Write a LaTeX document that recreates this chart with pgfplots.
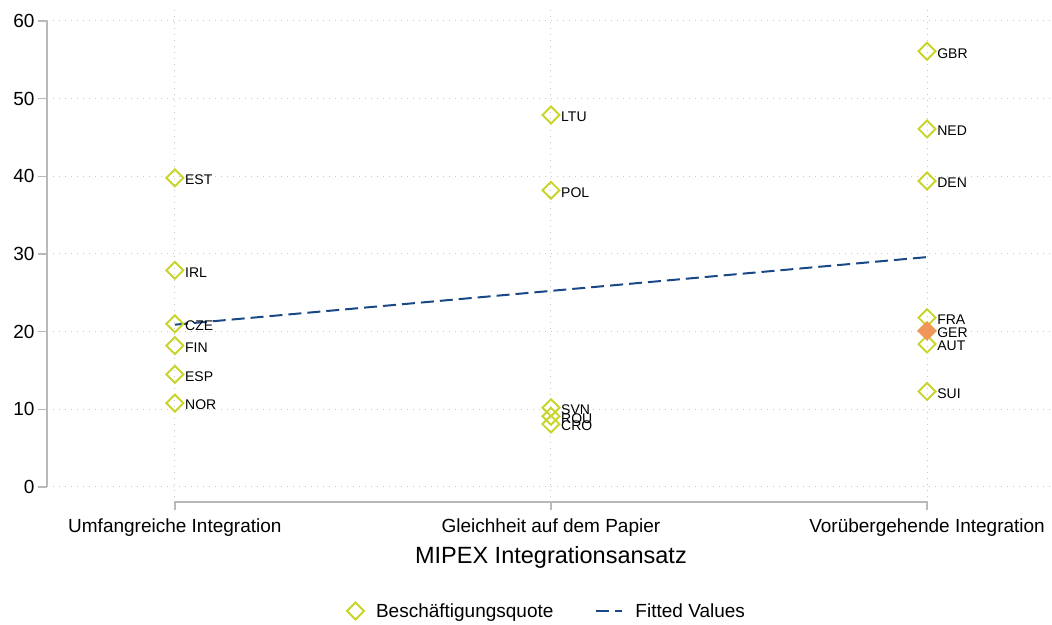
\documentclass[border=0pt]{standalone}
\usepackage{pgfplots}
\pgfplotsset{compat=1.18}
\usepackage{fontspec}
\setmainfont{Liberation Sans}
\definecolor{limeg}{RGB}{200,212,40}
\definecolor{gerc}{RGB}{240,150,90}
\definecolor{fitc}{RGB}{26,72,135}
\definecolor{axgray}{RGB}{185,185,185}
\pgfplotstableread{
x y lab
0 39.8 EST
0 27.9 IRL
0 21.0 CZE
0 18.2 FIN
0 14.5 ESP
0 10.8 NOR
1 47.9 LTU
1 38.2 POL
1 10.2 SVN
1 9.1 ROU
1 8.1 CRO
2 56.1 GBR
2 46.1 NED
2 39.4 DEN
2 21.8 FRA
2 20.1 GER
2 18.4 AUT
2 12.3 SUI
}\pts
\begin{document}
\begin{tikzpicture}[x=1pt,y=1pt]
\path[use as bounding box] (0,0) rectangle (1052,624);
\begin{axis}[
  at={(47pt,127pt)}, anchor=south west,
  scale only axis, width=1003pt, height=492pt,
  xmin=-0.34, xmax=2.327, ymin=-1.29, ymax=62.06,
  axis line style={draw=none},
  clip=false,
  xtick={0,1,2},
  xticklabels={Umfangreiche Integration, Gleichheit auf dem Papier, Vorübergehende Integration},
  x tick style={draw=none},
  ytick={0,10,...,60},
  ytick pos=left, xtick pos=bottom, tick align=outside,
  major tick length=9pt,
  y tick style={axgray, line width=1.6pt},
  grid=major, grid style={gray!45, line width=1pt, dash pattern=on 1pt off 5pt},
  tick label style={font=\fontsize{19}{22}\selectfont},
  /pgf/number format/assume math mode=true,
  xticklabel style={anchor=base, yshift=-26pt},
  legend style={at={(0.4985,-0.2317)}, anchor=center, draw=none, fill=none,
    font=\fontsize{19}{22}\selectfont, legend columns=2,
    /tikz/every odd column/.append style={column sep=10pt},
    /tikz/every even column/.append style={column sep=40pt}},
]
\addplot[only marks, mark=square, mark size=6pt,
  mark options={rotate=45, draw=limeg, line width=1.9pt},
  nodes near coords, point meta=explicit symbolic,
  nodes near coords style={anchor=west, black, font=\fontsize{14}{16}\selectfont, xshift=6pt, yshift=-2pt}]
  table[x=x, y=y, meta=lab] {\pts};
\addlegendentry{Beschäftigungsquote}
\addplot[fitc, line width=2pt, dash pattern=on 13pt off 6pt,
  legend image code/.code={\draw[fitc, line width=2pt, dash pattern=on 13pt off 6pt] (0pt,0pt) -- (26pt,0pt);}]
  coordinates {(0,20.9) (2,29.6)};
\addlegendentry{Fitted Values}
\addplot[only marks, forget plot, mark=square*, mark size=6pt,
  mark options={rotate=45, draw=gerc, fill=gerc, line width=1.9pt}]
  coordinates {(2,20.1)};
\draw[axgray, line width=1.6pt] (axis cs:-0.34,0) -- (axis cs:-0.34,60);
\draw[axgray, line width=1.6pt] (axis cs:0,-1.93) ++(0pt,-8pt) -- (axis cs:0,-1.93) -- (axis cs:2,-1.93) -- ++(0pt,-8pt);
\draw[axgray, line width=1.6pt] (axis cs:1,-1.93) -- ++(0pt,-8pt);
\node[anchor=base, font=\fontsize{23.5}{26}\selectfont] at (axis cs:1,-9.91) {MIPEX Integrationsansatz};
\end{axis}
\end{tikzpicture}
\end{document}
